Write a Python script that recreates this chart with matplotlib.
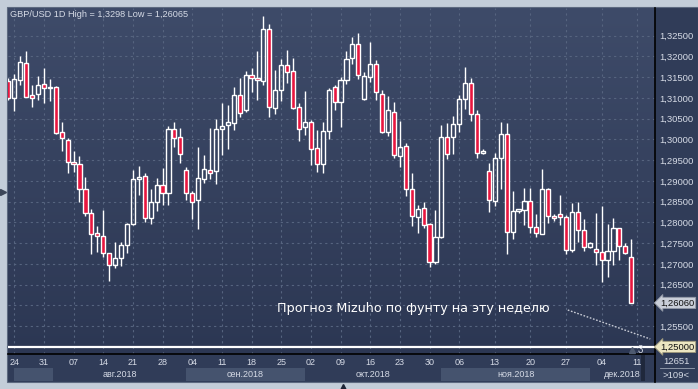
import numpy as np
import matplotlib
matplotlib.use("Agg")
import matplotlib.pyplot as plt
from matplotlib.colors import LinearSegmentedColormap
from matplotlib.patches import Rectangle
from matplotlib.lines import Line2D

# GBP/USD daily candles, 23 Jul 2018 .. 10 Dec 2018
opens = [1.31408, 1.30990, 1.31424, 1.31833, 1.31062, 1.31086, 1.31327, 1.31239, 1.31255, 1.30171,
         1.29978, 1.29448, 1.29400, 1.28797, 1.28219, 1.27737, 1.27665, 1.27255, 1.26966, 1.27135,
         1.27448, 1.27954, 1.29038, 1.29118, 1.28098, 1.28484, 1.28902, 1.28701, 1.30251, 1.30050,
         1.29255, 1.28701, 1.28548, 1.29054, 1.29255, 1.29247, 1.30243, 1.30339, 1.30404, 1.31062,
         1.30717, 1.31544, 1.31472, 1.31416, 1.32653, 1.30765, 1.31183, 1.31785, 1.31641, 1.30773,
         1.30307, 1.30412, 1.29785, 1.29416, 1.30195, 1.31255, 1.30894, 1.31424, 1.31954, 1.32291,
         1.30966, 1.31496, 1.31809, 1.31086, 1.30171, 1.30653, 1.29608, 1.29833, 1.28797, 1.28139,
         1.28339, 1.27954, 1.27038, 1.27641, 1.30050, 1.30050, 1.30380, 1.30966, 1.31351, 1.30604,
         1.29665, 1.29247, 1.28524, 1.29544, 1.30131, 1.27761, 1.28267, 1.28299, 1.28516, 1.27882,
         1.27721, 1.28797, 1.28147, 1.28195, 1.28122, 1.27327, 1.28243, 1.27809, 1.27400, 1.27351,
         1.27279, 1.27086, 1.27303, 1.27857, 1.27424, 1.27159]
highs = [1.31472, 1.31576, 1.32010, 1.32139, 1.31311, 1.31528, 1.31713, 1.31456, 1.31287, 1.30412,
         1.30034, 1.29713, 1.29608, 1.29102, 1.28323, 1.27914, 1.28299, 1.27271, 1.27520, 1.27520,
         1.27994, 1.29263, 1.29359, 1.29183, 1.28797, 1.29062, 1.29303, 1.30323, 1.30420, 1.30275,
         1.29343, 1.28757, 1.29825, 1.29624, 1.30283, 1.30492, 1.30878, 1.30829, 1.31263, 1.31480,
         1.31641, 1.31713, 1.32131, 1.32974, 1.32781, 1.31673, 1.31930, 1.32155, 1.31954, 1.30869,
         1.31167, 1.30468, 1.30227, 1.30412, 1.31231, 1.31311, 1.31512, 1.32131, 1.32476, 1.32556,
         1.31633, 1.32339, 1.31914, 1.31191, 1.31046, 1.30910, 1.30444, 1.29906, 1.29183, 1.28420,
         1.28500, 1.27994, 1.28299, 1.30355, 1.30388, 1.30564, 1.31070, 1.31737, 1.31472, 1.30709,
         1.29761, 1.29440, 1.29665, 1.30428, 1.30388, 1.28757, 1.28331, 1.28821, 1.28821, 1.28203,
         1.29287, 1.28821, 1.28203, 1.28661, 1.28179, 1.28476, 1.28500, 1.28082, 1.27520, 1.28219,
         1.28396, 1.27962, 1.28098, 1.27865, 1.27496, 1.27600]
lows = [1.30950, 1.30693, 1.31311, 1.31014, 1.30789, 1.30950, 1.30886, 1.30934, 1.30131, 1.29729,
        1.29183, 1.29223, 1.28500, 1.28163, 1.27231, 1.27295, 1.27159, 1.26596, 1.26894, 1.26950,
        1.27271, 1.27930, 1.28661, 1.28018, 1.27970, 1.28275, 1.28420, 1.28420, 1.29825, 1.29440,
        1.28540, 1.28082, 1.27841, 1.28958, 1.29046, 1.28926, 1.29624, 1.29769, 1.30227, 1.30532,
        1.30669, 1.31151, 1.30950, 1.31311, 1.30548, 1.30612, 1.30934, 1.31367, 1.30725, 1.29970,
        1.30106, 1.29384, 1.29223, 1.29191, 1.30018, 1.30709, 1.30307, 1.31335, 1.31809, 1.31448,
        1.30950, 1.31392, 1.30950, 1.30147, 1.30090, 1.29544, 1.29343, 1.28645, 1.27914, 1.27753,
        1.27857, 1.26934, 1.26990, 1.27616, 1.29520, 1.29649, 1.30187, 1.30741, 1.30452, 1.29560,
        1.29649, 1.28259, 1.28396, 1.28805, 1.27239, 1.27600, 1.28219, 1.27938, 1.27753, 1.27641,
        1.27713, 1.27994, 1.28042, 1.27938, 1.27247, 1.27279, 1.27536, 1.27319, 1.27384, 1.26982,
        1.26572, 1.26693, 1.26982, 1.27094, 1.27239, 1.26065]
closes = [1.30990, 1.31448, 1.31857, 1.31030, 1.30990, 1.31303, 1.31231, 1.31263, 1.30147, 1.30026,
          1.29448, 1.29400, 1.28797, 1.28219, 1.27713, 1.27665, 1.27255, 1.26966, 1.27135, 1.27448,
          1.27954, 1.29038, 1.29086, 1.28098, 1.28484, 1.28902, 1.28701, 1.30251, 1.30042, 1.29641,
          1.28701, 1.28500, 1.29062, 1.29279, 1.29183, 1.30251, 1.30315, 1.30412, 1.31062, 1.30645,
          1.31544, 1.31472, 1.31424, 1.32653, 1.30789, 1.31183, 1.31785, 1.31633, 1.30765, 1.30243,
          1.30412, 1.29761, 1.29400, 1.30195, 1.31183, 1.30894, 1.31424, 1.31930, 1.32291, 1.31544,
          1.31520, 1.31809, 1.31143, 1.30179, 1.30701, 1.29616, 1.29809, 1.28797, 1.28155, 1.28315,
          1.27938, 1.27038, 1.27641, 1.30050, 1.29641, 1.30380, 1.30966, 1.31351, 1.30604, 1.29665,
          1.29721, 1.28540, 1.29544, 1.30131, 1.27761, 1.28275, 1.28315, 1.28516, 1.27882, 1.27737,
          1.28797, 1.28155, 1.28098, 1.28122, 1.27327, 1.28243, 1.27809, 1.27400, 1.27496, 1.27287,
          1.27086, 1.27303, 1.27857, 1.27424, 1.27255, 1.26066]

# date axis
tick_idx = [1, 6, 11, 16, 21, 26, 31, 36, 41, 46, 51, 56, 61, 66, 71, 76, 82, 88, 94, 100, 106]
tick_lbl = ["24", "31", "07", "14", "21", "28", "04", "11", "18", "25", "02", "09", "16", "23",
            "30", "06", "13", "20", "27", "04", "11"]
month_edges = [1.0, 7.5, 30.0, 50.0, 73.0, 98.0, 109.0]
month_lbl = ["", "авг.2018", "сен.2018", "окт.2018", "ноя.2018", "дек.2018"]

price_ticks = np.arange(1.250, 1.3251, 0.005)
last_price = 1.2606
level_price = 1.25

W, H = 698, 389
BG = "#303c58"
RED = "#e8163f"
TXT = "#d6dbe6"

def fx(px):
    return px / W

def fy(py):
    return 1 - py / H

fig = plt.figure(figsize=(W / 100, H / 100), dpi=100, facecolor="#c3cdd9")
fig.add_artist(Rectangle((fx(7), fy(382)), fx(691), (375) / H, transform=fig.transFigure,
                         facecolor=BG, edgecolor="#5d6a80", lw=0.8, zorder=0))

# price axes
ax = fig.add_axes([fx(8), fy(354), fx(647), 346 / H])
x0, x1 = -0.05, 109.0
y0, y1 = 1.24829, 1.33167
grad = np.linspace(0, 1, 256).reshape(-1, 1)
cmap = LinearSegmentedColormap.from_list("bg", ["#2c3753", "#3e4b69"])
ax.imshow(grad, extent=[x0, x1, y0, y1], origin="lower", aspect="auto", cmap=cmap, zorder=0)
ax.set_xlim(x0, x1)
ax.set_ylim(y0, y1)

ax.set_xticks(tick_idx)
ax.set_xticklabels([])
ax.set_yticks(price_ticks)
# 1,25000 and 1,26000 sit under the price tags
ylabels = []
for v in price_ticks:
    if abs(v - level_price) < 1e-6 or abs(v - 1.26) < 1e-6:
        ylabels.append("")
    else:
        ylabels.append(f"{v:.5f}".replace(".", ","))
ax.set_yticklabels(ylabels)
ax.yaxis.tick_right()
ax.tick_params(axis="y", length=0, pad=3, labelsize=6.8, labelcolor=TXT)
ax.tick_params(axis="x", length=0)
for lab in ax.get_yticklabels():
    lab.set_fontfamily("Liberation Sans")
ax.grid(True, color="#56647f", lw=0.8, linestyle=(0, (2, 3)), zorder=1)
for s in ["top", "left"]:
    ax.spines[s].set_visible(False)
ax.spines["right"].set_color("black")
ax.spines["right"].set_linewidth(1.2)
ax.spines["bottom"].set_color("black")
ax.spines["bottom"].set_linewidth(1.2)

# candles
o = np.array(opens)
h = np.array(highs)
l = np.array(lows)
c = np.array(closes)
xs = np.arange(len(o))
top = np.maximum(o, c)
bot = np.minimum(o, c)
ax.vlines(xs, top, h, color="white", lw=1.0, zorder=3)
ax.vlines(xs, l, bot, color="white", lw=1.0, zorder=3)
body_h = np.maximum(top - bot, 0.00012)
down = c < o
ax.bar(xs[down], body_h[down], bottom=bot[down], width=0.7, color=RED,
       edgecolor="white", lw=1.0, zorder=4)
ax.bar(xs[~down], body_h[~down], bottom=bot[~down], width=0.7, color="none",
       edgecolor="white", lw=1.0, zorder=4)

ax.axhline(level_price, color="white", lw=1.6, zorder=5)

ax.text(0.3, 1.3300, "GBP/USD 1D High = 1,3298 Low = 1,26065", color=TXT, fontsize=6.6,
        family="Liberation Sans", va="center", ha="left", zorder=6)

ax.text(45.3, 1.25914, "Прогноз Mizuho по фунту на эту неделю", color="white", fontsize=9.2,
        family="DejaVu Sans", va="center", ha="left", zorder=6)
ax.plot([94.3, 108.2], [1.25889, 1.25191], color="#c8ccd6", lw=1.0,
        linestyle=(0, (1.2, 1.2)), zorder=6)

ax.text(106.6, 1.24925, "3", color=TXT, fontsize=7, family="Liberation Sans",
        ha="center", va="center", zorder=6)
ax.plot([105.2], [1.24925], marker="^", ms=4, color="#4e5a70", zorder=6)

# price tags on right axis
ax.text(109.9, last_price, "1,26060", color="#111111", fontsize=6.8, family="Liberation Sans",
        va="center", ha="left", zorder=10, clip_on=False,
        bbox=dict(boxstyle="larrow,pad=0.12", fc="#c9ced8", ec="#8f96a4", lw=0.6))
ax.text(109.9, level_price, "1,25000", color="#111111", fontsize=6.8, family="Liberation Sans",
        va="center", ha="left", zorder=10, clip_on=False,
        bbox=dict(boxstyle="larrow,pad=0.12", fc="#ece6c2", ec="#9a9478", lw=0.6))

# date axis
dax = fig.add_axes([fx(8), fy(382), fx(647), 28 / H])
dax.set_facecolor("#2f3b57")
dax.set_xlim(x0, x1)
dax.set_ylim(0, 1)
dax.axis("off")
for i in range(len(month_lbl)):
    a, b = month_edges[i], month_edges[i + 1]
    if i % 2 == 0:
        dax.axvspan(a, b, ymin=0.04, ymax=0.5, color="#45536e", lw=0)
    if month_lbl[i]:
        dax.text((a + b) / 2, 0.27, month_lbl[i], color=TXT, fontsize=6.5,
                 family="Liberation Sans", ha="center", va="center")
for t, s in zip(tick_idx, tick_lbl):
    dax.text(t, 0.7, s, color=TXT, fontsize=6.5, family="Liberation Sans",
             ha="center", va="center")
dax.add_patch(Rectangle((106.7, 0.05), 0.6, 0.9, color="#1f283c", lw=0))

# bottom-right corner box
fig.add_artist(Line2D([fx(655), fx(655)], [fy(354), fy(382)], color="black", lw=1.2))
fig.add_artist(Line2D([fx(660), fx(694)], [fy(368), fy(368)], color="#9aa3b4", lw=0.6))
fig.text(fx(676), fy(362), "12651", color=TXT, fontsize=6.8, family="Liberation Sans",
         ha="center", va="center")
fig.text(fx(676), fy(375), ">109<", color=TXT, fontsize=6.8, family="Liberation Sans",
         ha="center", va="center")

# frame handles
fig.add_artist(Line2D([fx(2.5)], [fy(192)], marker=">", ms=5, color="#3c4658",
                      transform=fig.transFigure))
fig.add_artist(Line2D([fx(343)], [fy(386.5)], marker="^", ms=5, color="#1c2436",
                      transform=fig.transFigure))

fig.savefig("out.png", dpi=100, facecolor=fig.get_facecolor())
